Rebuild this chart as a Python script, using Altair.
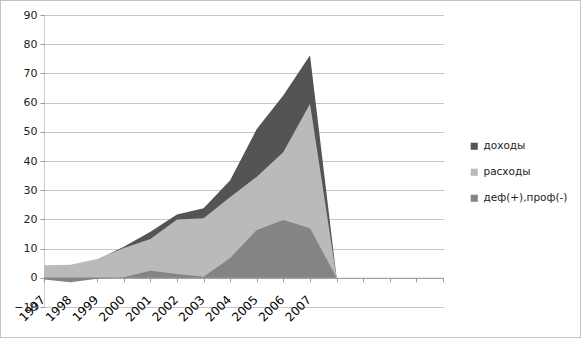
import json
import altair as alt
import pandas as pd

# ---- data ----
x_labels = ["1997", "1998", "1999", "2000", "2001", "2002", "2003", "2004",
            "2005", "2006", "2007", "", "", "", "", ""]
series = ["доходы", "расходы", "деф(+),проф(-)"]
dohody = [3.5, 3.0, 6.2, 10.6, 15.8, 21.7, 23.8, 33.4, 51.0, 62.5, 76.2, 0.0]
rashody = [4.3, 4.5, 6.4, 10.2, 13.3, 20.0, 20.4, 27.7, 34.6, 43.1, 59.6, 0.0]
def_prof = [-0.6, -1.5, -0.3, 0.2, 2.4, 1.3, 0.4, 6.8, 16.4, 19.8, 17.0, 0.0]
colors = ["#545454", "#bababa", "#848484"]
y_ticks = [-10, 0, 10, 20, 30, 40, 50, 60, 70, 80, 90]

rows = []
for s, vals in zip(series, [dohody, rashody, def_prof]):
    for i, v in enumerate(vals):
        rows.append({"i": i, "value": v, "series": s})
df = pd.DataFrame(rows)

FONT = "DejaVu Sans"
W, H = 399, 292
PAD_L, PAD_T = 44, 15

color = alt.Color(
    "series:N",
    scale=alt.Scale(domain=series, range=colors),
    legend=alt.Legend(
        title=None, orient="none", legendX=425, legendY=126,
        symbolType="square", symbolSize=50, symbolStrokeWidth=0,
        labelFont=FONT, labelFontSize=10.5, labelColor="#222",
        rowPadding=15, symbolOpacity=1,
    ),
)

x_enc = alt.X(
    "i:Q",
    scale=alt.Scale(domain=[0, len(x_labels) - 1], nice=False, zero=False),
    axis=alt.Axis(
        title=None, values=list(range(len(x_labels))),
        labelExpr=f"{json.dumps(x_labels)}[datum.value]",
        labelAngle=-45, labelFont=FONT, labelFontSize=12, labelColor="#000",
        offset=-29.2, grid=False, domainColor="#999", tickColor="#999",
        tickSize=4, labelPadding=12, labelOffset=-5, labelOverlap=False,
    ),
)
y_scale = alt.Scale(domain=[-10, 90], nice=False, zero=False)
y_axis = alt.Axis(
    title=None, values=y_ticks, grid=True, gridDash=[1, 1],
    gridColor="#8c8c8c", domainColor="#999", domainDash=[1, 1],
    tickColor="#999", tickSize=4, labelFont=FONT, labelFontSize=11,
    labelColor="#222", labelPadding=3,
)

base = alt.Chart(df).mark_area(opacity=1, line=False).encode(
    x=x_enc, y=alt.Y("value:Q", stack=None, scale=y_scale, axis=y_axis),
    color=color,
)
layers = [base.transform_filter(alt.datum.series == s) for s in series]

frame = alt.Chart(pd.DataFrame({"a": [0]})).mark_rect(
    filled=False, stroke="#888", strokeWidth=1, strokeDash=[1, 1], clip=False
).encode(
    x=alt.value(-PAD_L + 0.5), x2=alt.value(582 - PAD_L - 1.5),
    y=alt.value(-PAD_T + 0.5), y2=alt.value(339 - PAD_T - 1.5),
)

chart = alt.layer(*layers, frame).properties(
    width=W, height=H,
    autosize=alt.AutoSizeParams(type="none"),
    padding={"left": PAD_L, "top": PAD_T, "right": 582 - PAD_L - W,
             "bottom": 339 - PAD_T - H},
    background="white",
).configure_view(stroke=None)

chart.save("out.html", embed_options={"renderer": "svg", "actions": False})
